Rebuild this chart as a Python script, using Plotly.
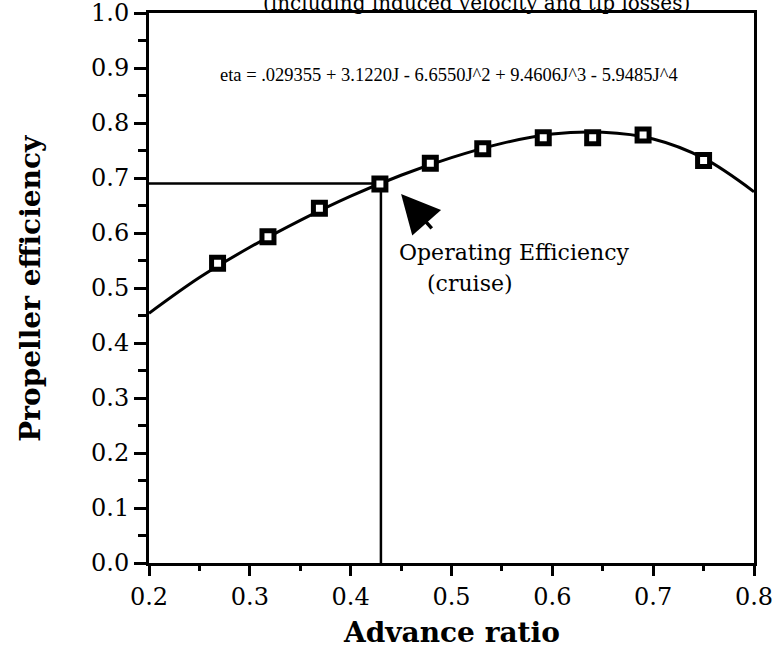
import plotly.graph_objects as go

# measured data points (advance ratio J, efficiency)
J_points = [0.268, 0.318, 0.369, 0.429, 0.479, 0.531, 0.591, 0.640, 0.690, 0.750]
eta_points = [0.545, 0.593, 0.645, 0.689, 0.727, 0.753, 0.773, 0.773, 0.778, 0.732]

# fitted curve
J_curve = [0.20, 0.25, 0.30, 0.35, 0.40, 0.45, 0.50, 0.55, 0.60, 0.65, 0.70, 0.75, 0.80]
eta_curve = [0.454, 0.519, 0.574, 0.623, 0.667, 0.705, 0.737, 0.763, 0.780, 0.783, 0.771, 0.736, 0.675]

# operating point guide lines
J_op = [0.20, 0.43, 0.43]
eta_op = [0.69, 0.69, 0.0]

x_ticks = [0.2, 0.3, 0.4, 0.5, 0.6, 0.7, 0.8]
x_tick_labels = ["0.2", "0.3", "0.4", "0.5", "0.6", "0.7", "0.8"]
y_ticks = [0.0, 0.1, 0.2, 0.3, 0.4, 0.5, 0.6, 0.7, 0.8, 0.9, 1.0]
y_tick_labels = ["0.0", "0.1", "0.2", "0.3", "0.4", "0.5", "0.6", "0.7", "0.8", "0.9", "1.0"]

SERIF = "DejaVu Serif"
TIMES = "Liberation Serif"

fig = go.Figure()
fig.add_trace(go.Scatter(x=J_op, y=eta_op, mode="lines",
                         line=dict(color="black", width=2.5), hoverinfo="skip"))
fig.add_trace(go.Scatter(x=J_curve, y=eta_curve, mode="lines", line_shape="spline",
                         line=dict(color="black", width=3), hoverinfo="skip"))
fig.add_trace(go.Scatter(x=J_points, y=eta_points, mode="markers",
                         marker=dict(symbol="square", size=12, color="white",
                                     line=dict(color="black", width=5))))

fig.update_layout(
    width=776, height=649,
    margin=dict(l=149, r=22, t=13, b=86),
    paper_bgcolor="white", plot_bgcolor="white",
    showlegend=False,
    font=dict(family=SERIF, color="black"),
)
fig.update_xaxes(
    range=[0.2, 0.8], tickvals=x_ticks, ticktext=x_tick_labels,
    automargin=False, ticklabeloverflow="allow",
    showgrid=False, zeroline=False,
    showline=True, linecolor="black", linewidth=3, mirror=True,
    ticks="outside", ticklen=10, tickwidth=3, tickcolor="black",
    tickfont=dict(family=SERIF, size=24, color="black"),
    minor=dict(dtick=0.05, ticks="outside", ticklen=5, tickwidth=3, tickcolor="black"),
)
fig.update_yaxes(
    range=[0, 1.0], tickvals=y_ticks, ticktext=y_tick_labels,
    automargin=False, ticklabeloverflow="allow",
    showgrid=False, zeroline=False,
    showline=True, linecolor="black", linewidth=3, mirror=True,
    ticks="outside", ticklen=12, tickwidth=3, tickcolor="black",
    tickfont=dict(family=SERIF, size=24, color="black"),
    minor=dict(dtick=0.05, ticks="outside", ticklen=8, tickwidth=3, tickcolor="black"),
)

fig.add_annotation(text="<b>Advance ratio</b>", xref="paper", yref="paper",
                   x=0.5, y=0, yanchor="middle", yshift=-69, showarrow=False,
                   font=dict(family=SERIF, size=28, color="black"))
fig.add_annotation(text="<b>Propeller efficiency</b>", xref="paper", yref="paper",
                   x=-0.197, xanchor="center", y=0.5, yanchor="middle",
                   textangle=-90, showarrow=False,
                   font=dict(family=SERIF, size=28, color="black"))
fig.add_annotation(text="(including induced velocity and tip losses)", xref="paper", yref="paper",
                   x=(692 - 149) / 605, xanchor="right", y=1, yanchor="bottom", yshift=-4,
                   showarrow=False,
                   font=dict(family=SERIF, size=20, color="black"))
fig.add_annotation(text="eta = .029355 + 3.1220J - 6.6550J^2 + 9.4606J^3 - 5.9485J^4",
                   x=0.4976, y=0.887, showarrow=False,
                   font=dict(family=TIMES, size=18.5, color="black"))
fig.add_annotation(text="Operating Efficiency", x=0.562, y=0.564, showarrow=False,
                   font=dict(family=SERIF, size=22, color="black"))
fig.add_annotation(text="(cruise)", x=0.518, y=0.509, showarrow=False,
                   font=dict(family=SERIF, size=22, color="black"))
fig.add_annotation(text="", x=0.45, y=0.671, ax=32, ay=36, axref="pixel", ayref="pixel",
                   showarrow=True, arrowhead=2, arrowsize=2.2, arrowwidth=3.5,
                   arrowcolor="black")

fig.write_html("out.html", config={"displayModeBar": False},
               post_script="document.body.style.margin='0px';")
